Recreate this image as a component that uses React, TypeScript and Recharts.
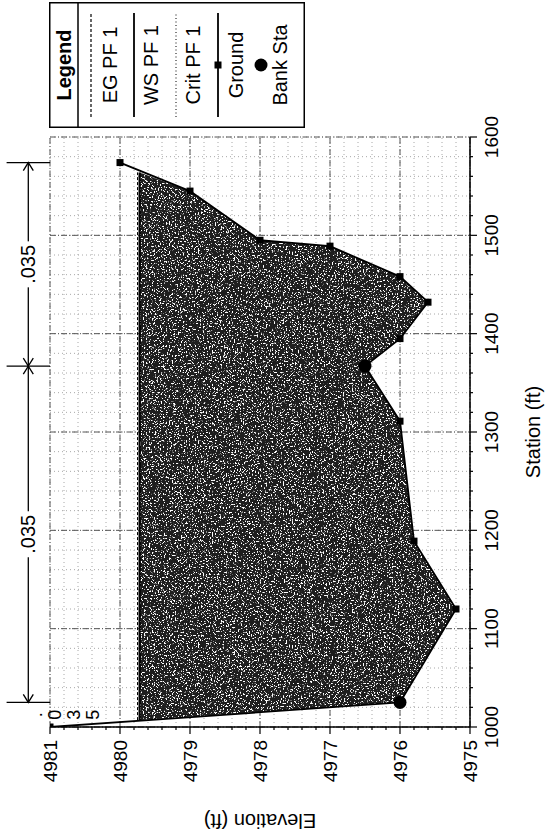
import React from 'react';
import {
  ComposedChart,
  XAxis,
  YAxis,
  CartesianGrid,
  Area,
  Line,
  ReferenceLine,
  ReferenceDot,
  Label,
} from 'recharts';

// Ground profile: station (ft) and elevation (ft)
const groundStations = [1000, 1025, 1120, 1189, 1311, 1367, 1395, 1432, 1458, 1489, 1495, 1545, 1574];
const groundElevations = [4981.0, 4976.0, 4975.2, 4975.8, 4976.0, 4976.5, 4976.0, 4975.6, 4976.0, 4977.0, 4978.0, 4979.0, 4980.0];

// Left and right bank stations
const bankStations = [1025, 1367];

// Profile PF 1 water surface / energy grade and where the surface meets the ground
const wsElevation = 4979.72;
const egElevation = 4979.75;
const waterEdgeStations = [1007, 1564];

// Manning's n zones
const nZoneBreaks = [1000, 1025, 1367, 1574];
const nZoneValues = ['.035', '.035', '.035'];

// Axis labels
const stationLabels = [1000, 1100, 1200, 1300, 1400, 1500, 1600];
const elevationLabels = [4975, 4976, 4977, 4978, 4979, 4980, 4981];
const xTitle = 'Station (ft)';
const yTitle = 'Elevation (ft)';

// Legend
const legendTitle = 'Legend';
const legendEntries = ['EG PF 1', 'WS PF 1', 'Crit PF 1', 'Ground', 'Bank Sta'];
const legendSamples = ['dash', 'solid', 'dot', 'ground', 'bank'];

const FONT = 'Arial, "Liberation Sans", Helvetica, sans-serif';

// Annotation rows above the plot, in elevation units
const nRowElevation = 4981.31;
const nBarTopElevation = 4981.62;

// Minor axis ticks
const stationTicks = Array.from({ length: 31 }, (_, i) => 1000 + i * 20);
const elevationTicks = Array.from({ length: 31 }, (_, i) => Math.round((4975 + i * 0.2) * 10) / 10);

const allStations = Array.from(new Set([...groundStations, ...waterEdgeStations])).sort((a, b) => a - b);

const rows = allStations.map((st) => {
  const gi = groundStations.indexOf(st);
  const ground = gi >= 0 ? groundElevations[gi] : null;
  const isEdge = waterEdgeStations.includes(st);
  const inWater = st >= waterEdgeStations[0] && st <= waterEdgeStations[1];
  return {
    station: st,
    ground,
    water: inWater ? [isEdge ? wsElevation : (ground as number), wsElevation] : null,
    ws: isEdge ? wsElevation : null,
    eg: isEdge ? egElevation : null,
    bank: bankStations.includes(st) ? ground : null,
  };
});

const GroundDot = (p: any) => {
  if (p.cx == null || p.cy == null || p.value == null) return <g key={`gd-${p.index}`} />;
  return <rect key={`gd-${p.index}`} x={p.cx - 3.5} y={p.cy - 3.5} width={7} height={7} fill="#000" />;
};

const BankDot = (p: any) => {
  if (p.cx == null || p.cy == null || p.value == null) return <g key={`bd-${p.index}`} />;
  return <circle key={`bd-${p.index}`} cx={p.cx} cy={p.cy} r={6.5} fill="#000" />;
};

const ElevTick = (p: any) => {
  const { x, y, payload } = p;
  const v = payload.value as number;
  const major = Math.abs(v - Math.round(v)) < 1e-6;
  if (!major) return <g />;
  return (
    <g>
      <line x1={x + 10} x2={x + 6} y1={y} y2={y} stroke="#000" strokeWidth={1.2} />
      <text x={x} y={y} textAnchor="end" dominantBaseline="central" fontSize={19} fill="#000" fontFamily={FONT}>
        {Math.round(v)}
      </text>
    </g>
  );
};

const StationTick = (p: any) => {
  const { x, y, payload } = p;
  const v = payload.value as number;
  if (v % 100 !== 0) return <g />;
  return (
    <g>
      <line x1={x} x2={x} y1={y - 12} y2={y - 8} stroke="#000" strokeWidth={1.2} />
      <text x={x} y={y} dy="0.71em" textAnchor="middle" fontSize={19} fill="#000" fontFamily={FONT}>
        {v}
      </text>
    </g>
  );
};

const arrowHead = (dir: 'left' | 'right' | 'both') => (p: any) => {
  const { cx, cy } = p;
  const l = 8;
  const w = 5;
  const parts: React.ReactNode[] = [];
  if (dir === 'left' || dir === 'both') {
    parts.push(<polyline key="l" points={`${cx + l},${cy - w} ${cx},${cy} ${cx + l},${cy + w}`} fill="none" stroke="#000" strokeWidth={1.3} />);
  }
  if (dir === 'right' || dir === 'both') {
    parts.push(<polyline key="r" points={`${cx - l},${cy - w} ${cx},${cy} ${cx - l},${cy + w}`} fill="none" stroke="#000" strokeWidth={1.3} />);
  }
  return <g>{parts}</g>;
};

const nLabel = (text: string) => (p: any) => {
  const { cx, cy } = p;
  return (
    <g>
      <rect x={cx - 23} y={cy - 11} width={46} height={22} fill="#fff" />
      <text x={cx} y={cy} textAnchor="middle" dominantBaseline="central" fontSize={20} fill="#000" fontFamily={FONT}>
        {text}
      </text>
    </g>
  );
};

const stackedLabel = (text: string) => (p: any) => {
  const { cx, cy } = p;
  return (
    <g>
      {text.split('').map((ch, i) => (
        <text key={i} x={cx} y={cy - 14 + i * 19} textAnchor="middle" dominantBaseline="central" fontSize={18} fill="#000" fontFamily={FONT}>
          {ch}
        </text>
      ))}
    </g>
  );
};

const XTitle = (p: any) => {
  const vb = p.viewBox || { x: 112, y: 470, width: 590, height: 75 };
  return (
    <text x={vb.x + vb.width / 2} y={vb.y + 63} textAnchor="middle" dominantBaseline="central" fontSize={20} fill="#000" fontFamily={FONT}>
      {xTitle}
    </text>
  );
};

const YTitle = (p: any) => {
  const vb = p.viewBox || { x: 0, y: 50, width: 112, height: 420 };
  const cx = vb.x + 18;
  const cy = vb.y + vb.height / 2;
  return (
    <text x={cx} y={cy} transform={`rotate(-90, ${cx}, ${cy})`} textAnchor="middle" dominantBaseline="central" fontSize={20} fill="#000" fontFamily={FONT}>
      {yTitle}
    </text>
  );
};

const LegendBox = () => {
  const w = 126;
  const h = 256;
  const mid = w / 2;
  const rowLine = [42, 85, 127, 169, 212];
  const rowText = [61, 102, 144, 187, 231];
  return (
    <svg width={w} height={h} style={{ position: 'absolute', left: 711, top: 49 }}>
      <rect x={0.75} y={0.75} width={w - 1.5} height={h - 1.5} fill="#fff" stroke="#000" strokeWidth={1.5} />
      <text x={mid} y={15} textAnchor="middle" dominantBaseline="central" fontSize={20} fontWeight="bold" fill="#000" fontFamily={FONT}>
        {legendTitle}
      </text>
      <line x1={0} x2={w} y1={29} y2={29} stroke="#000" strokeWidth={1.5} />
      {legendEntries.map((name, i) => {
        const kind = legendSamples[i];
        const ly = rowLine[i];
        let sample: React.ReactNode = null;
        if (kind === 'dash') sample = <line x1={11} x2={115} y1={ly} y2={ly} stroke="#000" strokeWidth={1.2} strokeDasharray="3 2" />;
        if (kind === 'solid') sample = <line x1={11} x2={115} y1={ly} y2={ly} stroke="#000" strokeWidth={1.8} />;
        if (kind === 'dot') sample = <line x1={11} x2={115} y1={ly} y2={ly} stroke="#000" strokeWidth={1} strokeDasharray="1 2.5" />;
        if (kind === 'ground')
          sample = (
            <g>
              <line x1={11} x2={115} y1={ly} y2={ly} stroke="#000" strokeWidth={1.8} />
              <rect x={mid - 3.5} y={ly - 3.5} width={7} height={7} fill="#000" />
            </g>
          );
        if (kind === 'bank') sample = <circle cx={mid} cy={ly} r={6.5} fill="#000" />;
        return (
          <g key={name}>
            {sample}
            <text x={mid} y={rowText[i]} textAnchor="middle" dominantBaseline="central" fontSize={20} fill="#000" fontFamily={FONT}>
              {name}
            </text>
          </g>
        );
      })}
    </svg>
  );
};

export default function App() {
  const midpoints = nZoneBreaks.slice(0, -1).map((s, i) => (s + nZoneBreaks[i + 1]) / 2);
  return (
    <div style={{ position: 'absolute', left: 0, top: 0, width: 545, height: 839, overflow: 'hidden', background: '#fff' }}>
      <style>{`.water-fill path { filter: url(#grain); }`}</style>
      <svg width={0} height={0} style={{ position: 'absolute' }}>
        <defs>
          <filter id="grain" x="0%" y="0%" width="100%" height="100%" colorInterpolationFilters="sRGB">
            <feTurbulence type="fractalNoise" baseFrequency="0.65" numOctaves={2} seed={7} result="noise" />
            <feColorMatrix
              in="noise"
              type="matrix"
              values="0 0 0 0 1  0 0 0 0 1  0 0 0 0 1  12 0 0 0 -6.9"
              result="speck"
            />
            <feComposite in="speck" in2="SourceAlpha" operator="in" result="speckIn" />
            <feMerge>
              <feMergeNode in="SourceGraphic" />
              <feMergeNode in="speckIn" />
            </feMerge>
          </filter>
        </defs>
      </svg>
      <div
        style={{
          position: 'absolute',
          left: 0,
          top: 0,
          width: 839,
          height: 545,
          transformOrigin: '0 0',
          transform: 'translate(0px, 839px) rotate(-90deg)',
          fontFamily: FONT,
          background: '#fff',
        }}
      >
        <ComposedChart width={839} height={545} data={rows} margin={{ top: 50, right: 137, bottom: 0, left: 0 }}>
          <XAxis
            type="number"
            dataKey="station"
            domain={[1000, 1600]}
            ticks={stationTicks}
            interval={0}
            allowDataOverflow
            height={75}
            tickSize={3}
            tickMargin={12}
            tick={StationTick}
            axisLine={{ stroke: '#000', strokeWidth: 1.5 }}
            tickLine={{ stroke: '#000', strokeWidth: 1.2 }}
          >
            <Label content={XTitle} />
          </XAxis>
          <YAxis
            type="number"
            domain={[4975, 4981]}
            ticks={elevationTicks}
            interval={0}
            allowDataOverflow
            width={112}
            tickSize={3}
            tickMargin={10}
            tick={ElevTick}
            axisLine={{ stroke: '#000', strokeWidth: 1.5 }}
            tickLine={{ stroke: '#000', strokeWidth: 1.2 }}
          >
            <Label content={YTitle} />
          </YAxis>
          <XAxis xAxisId="major" type="number" dataKey="station" domain={[1000, 1600]} ticks={stationLabels} interval={0} allowDataOverflow hide />
          <YAxis yAxisId="major" type="number" domain={[4975, 4981]} ticks={elevationLabels} interval={0} allowDataOverflow hide />
          <CartesianGrid stroke="#a8a8a8" strokeDasharray="1 3" strokeWidth={1} />
          <CartesianGrid xAxisId="major" yAxisId="major" stroke="#555" strokeDasharray="6 2 1 2" strokeWidth={1} />

          <Area
            className="water-fill"
            type="linear"
            dataKey="water"
            stroke="none"
            fill="#1e1e1e"
            fillOpacity={1}
            isAnimationActive={false}
            activeDot={false}
            connectNulls={false}
          />
          <Line type="linear" dataKey="eg" stroke="#000" strokeWidth={1} strokeDasharray="3 2" dot={false} activeDot={false} connectNulls isAnimationActive={false} />
          <Line type="linear" dataKey="ws" stroke="#000" strokeWidth={2.2} dot={false} activeDot={false} connectNulls isAnimationActive={false} />
          <Line
            type="linear"
            dataKey="ground"
            stroke="#000"
            strokeWidth={1.8}
            dot={GroundDot}
            activeDot={false}
            connectNulls
            isAnimationActive={false}
          />
          <Line type="linear" dataKey="bank" stroke="none" dot={BankDot} activeDot={false} isAnimationActive={false} />

          {/* Manning's n zone dimension line */}
          <ReferenceLine
            segment={[
              { x: nZoneBreaks[1], y: nRowElevation },
              { x: nZoneBreaks[3], y: nRowElevation },
            ]}
            stroke="#000"
            strokeWidth={1.3}
            ifOverflow="visible"
          />
          {nZoneBreaks.slice(1).map((s) => (
            <ReferenceLine
              key={`bar-${s}`}
              segment={[
                { x: s, y: nBarTopElevation },
                { x: s, y: 4981 },
              ]}
              stroke="#000"
              strokeWidth={1.3}
              ifOverflow="visible"
            />
          ))}
          <ReferenceDot x={nZoneBreaks[1]} y={nRowElevation} ifOverflow="visible" shape={arrowHead('left')} />
          <ReferenceDot x={nZoneBreaks[2]} y={nRowElevation} ifOverflow="visible" shape={arrowHead('both')} />
          <ReferenceDot x={nZoneBreaks[3]} y={nRowElevation} ifOverflow="visible" shape={arrowHead('right')} />
          <ReferenceDot x={midpoints[1]} y={nRowElevation} ifOverflow="visible" shape={nLabel(nZoneValues[1])} />
          <ReferenceDot x={midpoints[2]} y={nRowElevation} ifOverflow="visible" shape={nLabel(nZoneValues[2])} />
          <ReferenceDot x={midpoints[0]} y={4981} ifOverflow="visible" shape={stackedLabel(nZoneValues[0])} />
        </ComposedChart>
        <LegendBox />
      </div>
    </div>
  );
}
